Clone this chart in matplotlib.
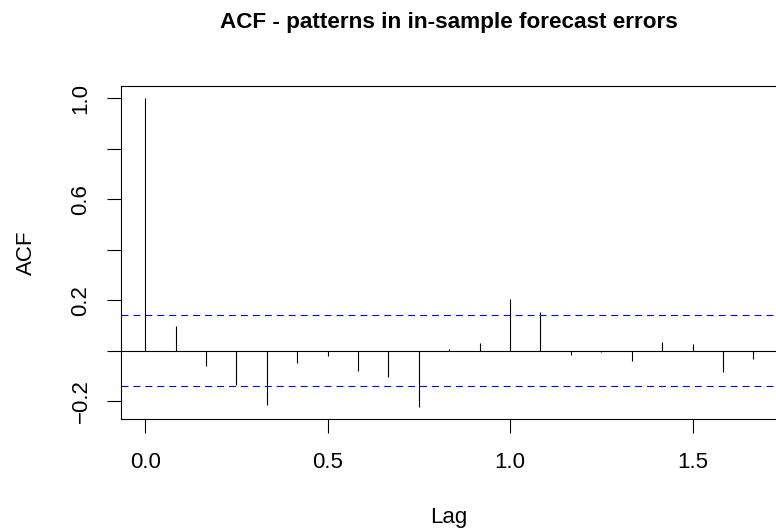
import matplotlib
matplotlib.use("Agg")
import matplotlib.pyplot as plt

plt.rcParams['font.family'] = ['Liberation Sans', 'DejaVu Sans']
plt.rcParams['lines.scale_dashes'] = False

# ACF of in-sample forecast errors (monthly series, lags in years)
lag_index = [0, 1, 2, 3, 4, 5, 6, 7, 8, 9, 10, 11, 12, 13, 14, 15, 16, 17, 18, 19, 20]
freq = 12
acf_vals = [1.0, 0.098, -0.062, -0.134, -0.213, -0.049, -0.020, -0.079, -0.105, -0.221,
            0.007, 0.030, 0.206, 0.153, -0.016, -0.004, -0.042, 0.033, 0.028, -0.085, -0.032]
conf_limit = 0.141

y_ticks = [-0.2, 0.0, 0.2, 0.4, 0.6, 0.8, 1.0]
y_labels = ['\u22120.2', '', '0.2', '', '0.6', '', '1.0']
x_ticks = [0.0, 0.5, 1.0, 1.5]
x_labels = ['0.0', '0.5', '1.0', '1.5']

lags = [k / freq for k in lag_index]

fig = plt.figure(figsize=(7.76, 5.31), dpi=100)
ax = fig.add_axes([0.1556, 0.2109, 0.8466, 0.6277])

ax.vlines(lags, 0, acf_vals, colors='black', lw=0.8)
ax.axhline(0, color='black', lw=0.8)
for c in (conf_limit, -conf_limit):
    ax.axhline(c, color='#0000FF', lw=0.8, dashes=(5, 3.6))

ax.set_xlim(-0.0667, 1.7333)
ax.set_ylim(-0.2698, 1.0488)

ax.set_xticks(x_ticks)
ax.set_xticklabels(x_labels)
ax.set_yticks(y_ticks)
ax.set_yticklabels(y_labels, rotation=90, va='center')

ax.tick_params(axis='both', length=10, width=0.8, labelsize=16, color='black')
ax.tick_params(axis='x', pad=14)
ax.tick_params(axis='y', pad=11)
for s in ax.spines.values():
    s.set_linewidth(0.8)

ax.set_xlabel('Lag', fontsize=16, labelpad=24)
ax.set_ylabel('ACF', fontsize=16, labelpad=24)
ax.set_title('ACF - patterns in in-sample forecast errors', fontsize=16.2,
             fontweight='bold', pad=41.5)

fig.savefig('out.png', dpi=100)
